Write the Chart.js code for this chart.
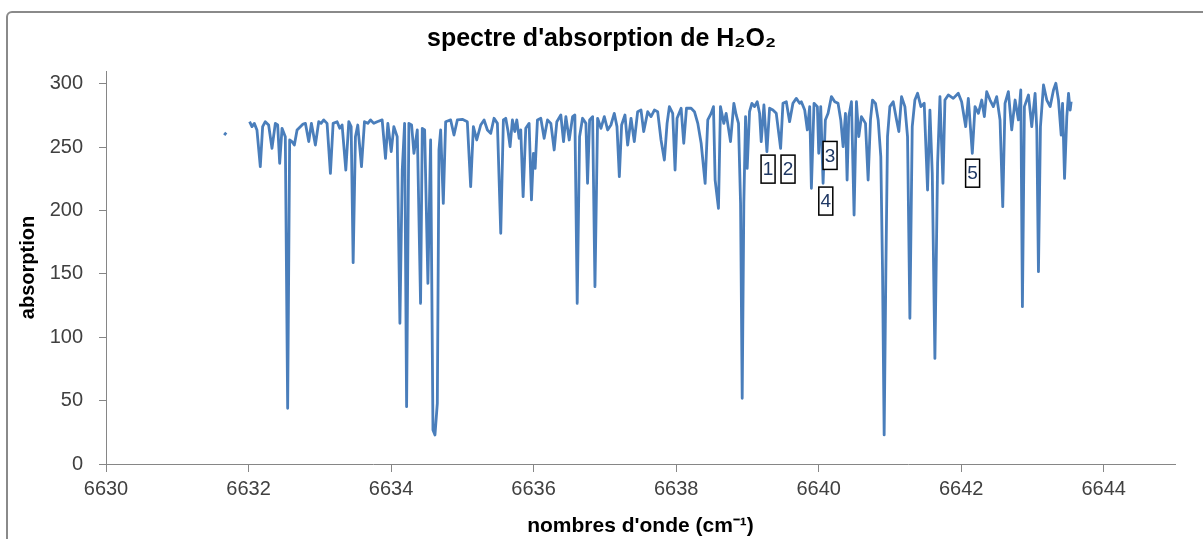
<!DOCTYPE html>
<html><head><meta charset="utf-8">
<script src="https://cdn.jsdelivr.net/npm/chart.js@4.4.1/dist/chart.umd.min.js"></script>
<style>html,body{margin:0;padding:0;background:#fff;}canvas{display:block;}</style>
</head><body>
<canvas id="c" width="1203" height="539"></canvas>
<script>
// x values (cm-1)
const wavenumber = [
6631.659,6631.687,6631.800,
6632.015,6632.048,6632.081,6632.118,6632.165,6632.198,6632.235,6632.282,6632.329,6632.376,6632.409,6632.437,6632.470,6632.516,6632.549,6632.577,6632.610,6632.643,6632.681,6632.727,6632.765,6632.798,6632.845,6632.882,6632.938,6632.985,
6633.018,6633.055,6633.102,6633.149,6633.187,6633.243,6633.280,6633.313,6633.365,6633.407,6633.440,6633.468,6633.500,6633.533,6633.585,6633.627,6633.674,6633.712,6633.758,6633.805,6633.875,6633.922,6633.955,
6634.002,6634.039,6634.086,6634.124,6634.157,6634.190,6634.218,6634.250,6634.288,6634.321,6634.368,6634.414,6634.438,6634.471,6634.517,6634.555,6634.588,6634.616,6634.649,6634.672,6634.696,6634.733,6634.766,6634.836,6634.883,6634.930,
6635.000,6635.070,6635.117,6635.155,6635.202,6635.258,6635.305,6635.352,6635.398,6635.445,6635.492,6635.539,6635.576,6635.609,6635.642,6635.670,6635.703,6635.736,6635.764,6635.797,6635.820,6635.853,6635.890,6635.937,6635.970,6635.998,
6636.022,6636.054,6636.101,6636.148,6636.195,6636.242,6636.289,6636.326,6636.382,6636.420,6636.453,6636.500,6636.547,6636.579,6636.612,6636.645,6636.687,6636.734,6636.757,6636.786,6636.828,6636.861,6636.898,6636.945,6636.992,
6637.039,6637.085,6637.132,6637.170,6637.203,6637.235,6637.282,6637.320,6637.367,6637.413,6637.460,6637.507,6637.545,6637.601,6637.648,6637.695,6637.741,6637.788,6637.835,6637.873,6637.905,6637.952,6637.985,
6638.013,6638.070,6638.107,6638.145,6638.210,6638.257,6638.304,6638.351,6638.407,6638.444,6638.491,6638.524,6638.547,6638.594,6638.622,6638.669,6638.702,6638.763,6638.810,6638.843,6638.875,6638.904,6638.927,6638.950,6638.974,6638.997,
6639.030,6639.063,6639.100,6639.138,6639.171,6639.194,6639.232,6639.274,6639.311,6639.358,6639.405,6639.466,6639.499,6639.546,6639.592,6639.639,6639.686,6639.733,6639.757,6639.804,6639.841,6639.874,6639.898,6639.935,6639.982,
6640.001,6640.029,6640.062,6640.094,6640.132,6640.179,6640.226,6640.272,6640.310,6640.343,6640.376,6640.399,6640.422,6640.460,6640.497,6640.530,6640.563,6640.600,6640.657,6640.694,6640.727,6640.755,6640.797,6640.835,6640.872,6640.896,6640.919,6640.943,6640.966,6640.999,
6641.046,6641.093,6641.125,6641.163,6641.210,6641.247,6641.280,6641.313,6641.350,6641.388,6641.435,6641.481,6641.528,6641.561,6641.594,6641.631,6641.669,6641.702,6641.744,6641.772,6641.819,6641.889,6641.959,
6642.006,6642.063,6642.100,6642.156,6642.194,6642.241,6642.288,6642.325,6642.358,6642.405,6642.451,6642.498,6642.545,6642.583,6642.615,6642.662,6642.709,6642.756,6642.803,6642.836,6642.859,6642.887,6642.944,6642.990,
6643.037,6643.061,6643.084,6643.112,6643.155,6643.201,6643.248,6643.295,6643.328,6643.365,6643.403,6643.422,6643.450,6643.482,6643.506,6643.529,6643.543
];
// absorption values (null = gap)
const absorption = [
259.5,261.4,null,
270.0,266.1,268.7,263.5,234.5,266.1,270.0,267.4,249.0,268.7,267.4,237.2,264.8,258.2,43.9,255.6,254.3,251.6,263.5,266.1,268.2,268.7,254.3,268.7,251.6,270.0,
268.7,271.4,268.7,229.3,268.7,270.0,264.8,267.4,231.9,270.0,266.1,158.8,258.2,267.4,234.5,270.0,268.7,271.4,268.7,270.0,271.4,241.1,268.7,
246.4,266.1,258.2,111.0,231.9,268.7,45.2,268.7,267.4,245.1,263.5,126.7,264.8,263.5,142.5,255.6,26.8,22.9,47.8,247.7,263.5,205.6,270.0,271.4,259.5,271.4,
271.9,270.0,218.8,266.1,255.6,267.4,271.4,263.5,260.8,272.7,268.7,182.0,271.4,272.7,262.2,250.3,271.4,262.2,271.4,256.9,263.5,210.9,264.8,268.7,208.3,245.1,
233.2,271.4,272.7,256.9,271.4,268.7,247.7,270.0,275.3,254.3,274.0,255.6,274.0,275.3,126.7,258.2,272.7,268.7,221.4,271.4,274.0,139.9,272.7,264.8,274.0,
263.5,267.4,276.6,266.1,226.7,267.4,275.3,251.6,272.7,254.3,277.9,279.2,262.2,277.9,274.0,279.2,277.9,255.6,239.8,268.7,281.9,276.6,231.9,
272.7,280.6,253.0,280.6,280.6,277.9,268.7,253.0,221.4,271.4,276.6,281.9,224.0,201.7,281.9,268.7,276.6,254.3,284.5,275.3,268.7,205.6,51.8,205.6,274.0,233.2,
277.9,284.5,281.9,285.8,276.6,254.3,283.2,246.4,280.6,279.2,276.6,249.0,284.5,285.8,270.0,284.5,288.4,284.5,285.8,279.2,263.5,281.9,217.5,284.5,281.9,
245.1,281.9,221.4,271.4,276.6,289.8,285.8,284.5,271.4,250.3,276.6,224.0,274.0,285.8,196.4,285.8,258.2,274.0,268.7,224.0,271.4,287.1,284.5,271.4,242.4,153.0,22.9,153.0,258.2,281.9,
285.8,271.4,262.2,289.8,281.9,258.2,114.9,266.1,287.1,292.4,281.9,284.5,216.1,279.2,229.3,83.3,237.2,289.8,221.4,287.1,291.1,288.4,292.4,
285.8,266.1,288.4,245.1,281.9,276.6,287.1,274.0,293.7,287.1,281.9,289.8,271.4,203.0,284.5,293.7,263.5,287.1,271.4,295.0,124.1,281.9,291.1,266.1,
292.4,263.5,151.7,266.1,299.0,287.1,281.9,295.0,300.3,287.1,259.5,284.5,225.3,274.0,292.4,279.2,285.8
];
// tick labels
const xTickValues = [6630, 6632, 6634, 6636, 6638, 6640, 6642, 6644];
const yTickValues = [0, 50, 100, 150, 200, 250, 300];
// numbered line markers
const markerLabels = ['1', '2', '3', '4', '5'];
const markerX = [6639.29, 6639.57, 6640.16, 6640.10, 6642.16];
const markerY = [232.6, 232.6, 243.4, 207.4, 229.4];

const points = wavenumber.map((x, i) => ({ x: x, y: absorption[i] }));

const overlay = {
  id: 'overlay',
  beforeDraw(chart) {
    const ctx = chart.ctx;
    ctx.save();
    ctx.fillStyle = '#ffffff';
    ctx.fillRect(0, 0, chart.width, chart.height);
    ctx.strokeStyle = '#8a8a8a';
    ctx.lineWidth = 2;
    ctx.beginPath();
    if (ctx.roundRect) ctx.roundRect(7, 12, 1240, 600, 5); else ctx.rect(7, 12, 1240, 600);
    ctx.stroke();
    ctx.restore();
  },
  afterDatasetsDraw(chart) {
    const ctx = chart.ctx;
    const xs = chart.scales.x, ys = chart.scales.y;
    ctx.save();
    ctx.font = '19px "Liberation Sans", Arial, sans-serif';
    ctx.textAlign = 'center';
    ctx.textBaseline = 'middle';
    markerLabels.forEach((lab, i) => {
      const px = xs.getPixelForValue(markerX[i]);
      const py = ys.getPixelForValue(markerY[i]);
      const w = 14, h = 28;
      ctx.fillStyle = '#ffffff';
      ctx.fillRect(px - w / 2, py - h / 2, w, h);
      ctx.strokeStyle = '#000000';
      ctx.lineWidth = 1.5;
      ctx.strokeRect(px - w / 2, py - h / 2, w, h);
      ctx.fillStyle = '#1F3864';
      ctx.fillText(lab, px, py + 1);
    });
    ctx.restore();
  }
};

new Chart(document.getElementById('c'), {
  type: 'scatter',
  data: {
    datasets: [{
      data: points,
      showLine: true,
      spanGaps: false,
      borderColor: '#4A7EBB',
      borderWidth: 2.8,
      borderJoinStyle: 'round',
      pointRadius: 0,
      pointHoverRadius: 0,
      tension: 0,
      fill: false
    }]
  },
  options: {
    responsive: false,
    animation: false,
    devicePixelRatio: 1,
    layout: { padding: 0 },
    plugins: {
      legend: { display: false },
      tooltip: { enabled: false },
      title: {
        display: true,
        text: "spectre d'absorption de H\u2082O\u2082",
        color: '#000000',
        font: { family: '"Liberation Sans", Arial, sans-serif', size: 25, weight: 'bold' },
        padding: { top: 24, bottom: 17 }
      }
    },
    scales: {
      x: {
        type: 'linear',
        min: 6630,
        max: 6645,
        afterBuildTicks: (s) => { s.ticks = xTickValues.map(v => ({ value: v })); },
        afterFit: (s) => { s.height = 75; },
        grid: { drawOnChartArea: false, drawTicks: true, tickLength: 8, color: '#868686' },
        border: { display: true, color: '#868686', width: 1 },
        ticks: {
          color: '#404040',
          font: { family: '"Liberation Sans", Arial, sans-serif', size: 20 },
          padding: 5,
          maxRotation: 0,
          autoSkip: false,
          callback: (v) => String(v)
        },
        title: {
          display: true,
          text: "nombres d'onde (cm\u207B\u00B9)",
          color: '#000000',
          font: { family: '"Liberation Sans", Arial, sans-serif', size: 21, weight: 'bold' },
          padding: { top: 0, bottom: 0 }
        }
      },
      y: {
        min: 0,
        max: 310,
        afterBuildTicks: (s) => { s.ticks = yTickValues.map(v => ({ value: v })); },
        afterFit: (s) => { s.width = 106; },
        grid: { drawOnChartArea: false, drawTicks: true, tickLength: 7, color: '#868686' },
        border: { display: true, color: '#868686', width: 1 },
        ticks: {
          color: '#404040',
          font: { family: '"Liberation Sans", Arial, sans-serif', size: 20 },
          padding: 16
        },
        title: {
          display: true,
          text: 'absorption',
          color: '#000000',
          font: { family: '"Liberation Sans", Arial, sans-serif', size: 20, weight: 'bold' },
          padding: { top: 16, bottom: 0 }
        }
      },
      spacer: {
        type: 'linear',
        position: 'right',
        display: true,
        grid: { display: false, drawTicks: false },
        border: { display: false },
        ticks: { display: false },
        afterFit: (s) => { s.width = 28; }
      }
    }
  },
  plugins: [overlay]
});
</script>
</body></html>
